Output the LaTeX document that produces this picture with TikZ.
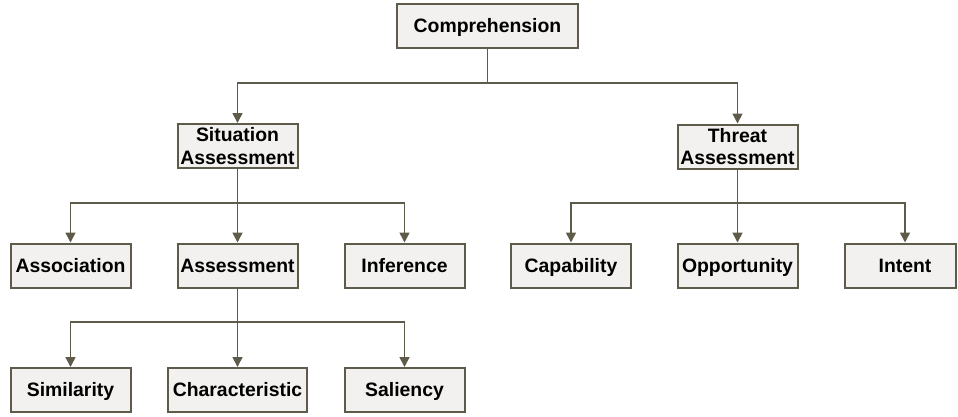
\documentclass[tikz,border=0pt]{standalone}
\usepackage{fontspec}
\setmainfont{Liberation Sans}
\usetikzlibrary{arrows.meta}
\definecolor{edgecol}{HTML}{5F5B4A}
\definecolor{boxfill}{HTML}{F2F1EF}
\begin{document}
\begin{tikzpicture}[x=1pt,y=-1pt,
  box/.style={draw=edgecol, fill=boxfill, line width=2pt, minimum width=120pt, minimum height=44pt,
    inner sep=0pt, align=center, font=\fontsize{19.4}{22.5}\selectfont\bfseries},
  oneline/.style={box, text height=13.9pt, text depth=0pt},
  conn/.style={draw=edgecol, line width=1.6pt},
  arr/.style={conn, -{Triangle[width=10pt,length=10pt]}}]
\useasboundingbox (0,0) rectangle (958,416);
% level 1
\node[oneline, minimum width=181pt] (comp) at (487.5,26) {Comprehension};
% level 2
\node[box] (sit) at (237.5,146) {Situation\\Assessment};
\node[box] (thr) at (737.5,146.5) {Threat\\Assessment};
% level 3
\node[oneline] (assoc) at (70.5,265.5) {Association};
\node[oneline] (assess) at (237.5,265.5) {Assessment};
\node[oneline] (infer) at (404.5,265.5) {Inference};
\node[oneline] (cap) at (571,265.5) {Capability};
\node[oneline] (opp) at (737.5,265.5) {Opportunity};
\node[oneline, minimum width=111pt] (intent) at (900.5,265.5) {\hspace*{9pt}Intent};
% level 4
\node[oneline] (sim) at (70.5,390) {Similarity};
\node[oneline, minimum width=139pt] (char) at (237.5,390) {Characteristic};
\node[oneline] (sal) at (404.5,390) {Saliency};
% connectors
\draw[arr] (comp.south) -- (comp.south |- 0,83) -| (sit.north);
\draw[arr] (comp.south) -- (comp.south |- 0,83) -| (thr.north);
\draw[arr] (sit.south) -- (sit.south |- 0,203) -| (assoc.north);
\draw[arr] (sit.south) -- (assess.north);
\draw[arr] (sit.south) -- (sit.south |- 0,203) -| (infer.north);
\draw[arr] (thr.south) -- (thr.south |- 0,203) -| (cap.north);
\draw[arr] (thr.south) -- (opp.north);
\draw[arr] (thr.south) -- (thr.south |- 0,203) -| ([xshift=4.5pt]intent.north);
\draw[arr] (assess.south) -- (assess.south |- 0,322) -| (sim.north);
\draw[arr] (assess.south) -- (char.north);
\draw[arr] (assess.south) -- (assess.south |- 0,322) -| (sal.north);
\end{tikzpicture}
\end{document}
